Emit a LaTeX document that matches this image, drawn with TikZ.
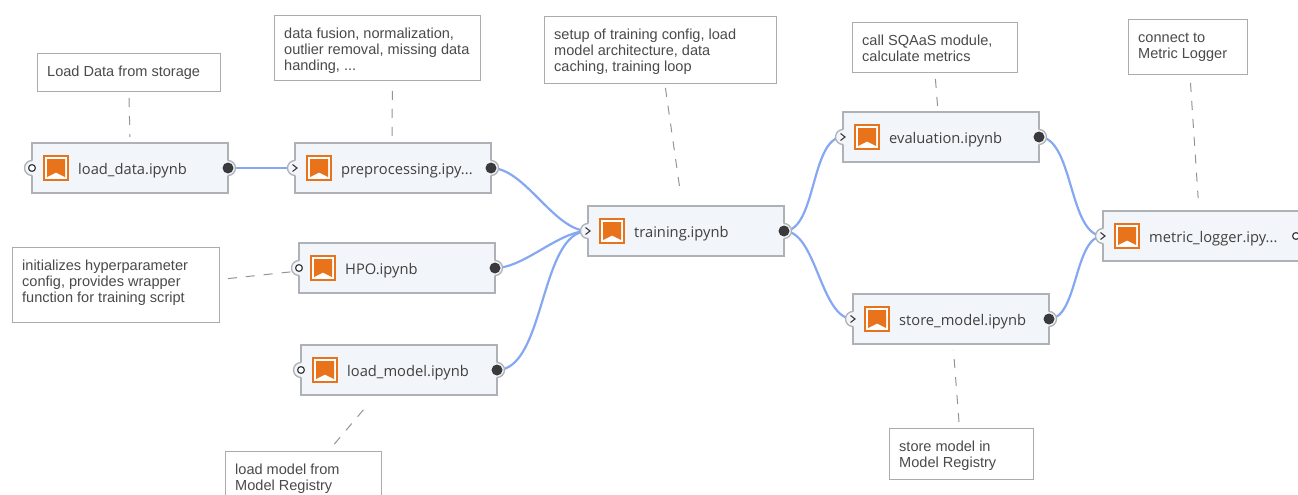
\documentclass[tikz,border=0pt]{standalone}
\usepackage{xcolor}
\usepackage{fontspec}
\setmainfont{Liberation Sans}
\newfontfamily\boxfont{Open Sans}
\definecolor{boxfill}{HTML}{F2F5F9}
\definecolor{boxline}{HTML}{AEB2B7}
\definecolor{noteline}{HTML}{ABABAB}
\definecolor{notetext}{HTML}{4A4A4A}
\definecolor{linkblue}{HTML}{86A8F2}
\definecolor{iconorange}{HTML}{E8731A}
\definecolor{portdark}{HTML}{3A3A3C}
\newcommand{\cutdots}{...}
\tikzset{
    nbbox/.style={draw=boxline, fill=boxfill, line width=1.2pt, minimum width=196pt, minimum height=50pt, inner sep=0pt, outer sep=0pt, anchor=north west},
    nblabel/.style={anchor=west, inner sep=0pt, text=black!75, font=\boxfont\fontsize{14.7}{16}\selectfont},
    noteframe/.style={draw=noteline, line width=0.9pt, fill=white, anchor=north west, inner sep=0pt},
    notelabel/.style={anchor=north west, inner sep=0pt, align=left, text=notetext, font=\fontsize{14.55}{16}\selectfont},
    notelink/.style={draw=black!42, line width=1pt, dash pattern=on 9pt off 9pt, shorten <=6pt, shorten >=6pt},
    datalink/.style={draw=linkblue, line width=2.2pt, out=0, in=180, looseness=0.75},
    portlip/.style={fill=boxfill, draw=none},
    nbicon/.pic={
        \draw [iconorange, fill=white, line width=2pt] (-12,-12) rectangle (12,12);
        \fill [iconorange] (-9,-9) -- (9,-9) -- (9,9) -- (0,4.5) -- (-9,9) -- cycle;
    }
}
\begin{document}
\begin{tikzpicture}[x=1pt, y=-1pt]
    \clip (0,0) rectangle (1298,495);

    % Notebook boxes
    \foreach \nbname/\x/\y/\nbtext in {
        loaddata/32/143/load\_data.ipynb,
        preproc/295/143/preprocessing.ipy\cutdots,
        hpo/299/243/HPO.ipynb,
        loadmodel/301/345/load\_model.ipynb,
        training/588/206/training.ipynb,
        evaluation/843/112/evaluation.ipynb,
        storemodel/853/294/store\_model.ipynb,
        metriclogger/1103/211/metric\_logger.ipy\cutdots} {
        \node [nbbox] (\nbname) at (\x,\y) {};
        \pic at ([xshift=24pt]\nbname.west) {nbicon};
        \node [nblabel] (\nbname label) at ([shift={(46pt,-2.5pt)}]\nbname.west) {\nbtext};
    }

    % Notes
    \foreach \notename/\x/\y/\w/\h/\notetext in {
        noteload/37/53/183/38/{Load Data from storage},
        notepreproc/274/15/206/65/{data fusion, normalization,\\outlier removal, missing data\\handing, \cutdots},
        notetrain/544/16/232/67/{setup of training config, load\\model architecture, data\\caching, training loop},
        noteeval/852/22/165/50/{call SQAaS module,\\calculate metrics},
        notemetric/1128/19/119/55/{connect to\\Metric Logger},
        notehpo/12/247/207/75/{initializes hyperparameter\\config, provides wrapper\\function for training script},
        notemodel/225/451/156/50/{load model from\\Model Registry},
        notestore/889/428/144/51/{store model in\\Model Registry}} {
        \node [noteframe, minimum width=\w pt, minimum height=\h pt] (\notename) at (\x,\y) {};
        \node [notelabel] (\notename label) at ([shift={(10pt,-12pt)}]\notename.north west) {\strut\notetext};
    }

    % Note links
    \draw [notelink] (noteload.south) -- (loaddata.north);
    \draw [notelink, shorten <=10pt, shorten >=7pt] ([xshift=15pt]notepreproc.south) -- ([xshift=-1pt]preproc.north);
    \draw [notelink, shorten <=4pt, shorten >=16pt] ([xshift=4.4pt]notetrain.south) -- ([xshift=-3.7pt]training.north);
    \draw [notelink] (noteeval.south) -- ([xshift=-3pt]evaluation.north);
    \draw [notelink, shorten <=8pt, shorten >=13pt] ([xshift=2pt]notemetric.south) -- ([xshift=-2pt]metriclogger.north);
    \draw [notelink, shorten <=8pt] ([yshift=5.5pt]notehpo.east) -- ([yshift=-3pt]hpo.west);
    \draw [notelink, shorten <=9pt, shorten >=18pt] ([xshift=25pt]notemodel.north) -- ([xshift=-23pt]loadmodel.south);
    \draw [notelink] ([xshift=-2pt]notestore.north) -- ([xshift=2pt]storemodel.south);

    % Links between notebooks
    \draw [datalink] (loaddata.east) to (preproc.west);
    \foreach \fromnb in {preproc,hpo,loadmodel} {
        \draw [datalink] (\fromnb.east) to (training.west);
    }
    \draw [datalink] (training.east) to (evaluation.west);
    \draw [datalink] (training.east) to (storemodel.west);
    \draw [datalink] (evaluation.east) to (metriclogger.west);
    \draw [datalink] (storemodel.east) to (metriclogger.west);

    % Ports
    \foreach \nbname in {loaddata,preproc,hpo,loadmodel,training,evaluation,storemodel} {
        \fill [portlip] (\nbname.east) circle (7.5pt);
        \draw [boxline, line width=1.3pt] ([yshift=7.5pt]\nbname.east) arc[start angle=90, end angle=-90, radius=7.5pt];
        \fill [portdark] (\nbname.east) circle (5.5pt);
    }
    \foreach \nbname in {loaddata,hpo,loadmodel} {
        \fill [portlip] (\nbname.west) circle (7.5pt);
        \draw [boxline, line width=1.3pt] ([yshift=7.5pt]\nbname.west) arc[start angle=90, end angle=270, radius=7.5pt];
        \draw [portdark, fill=white, line width=1.2pt] (\nbname.west) circle (3.4pt);
    }
    \foreach \nbname in {preproc,training,evaluation,storemodel,metriclogger} {
        \fill [portlip] (\nbname.west) circle (7.5pt);
        \draw [boxline, line width=1.3pt] ([yshift=7.5pt]\nbname.west) arc[start angle=90, end angle=270, radius=7.5pt];
        \draw [portdark, line width=1.1pt] ([shift={(-2.5pt,3.5pt)}]\nbname.west) -- ([xshift=2pt]\nbname.west) -- ([shift={(-2.5pt,-3.5pt)}]\nbname.west);
    }
    \draw [portdark, fill=white, line width=1.2pt] ([xshift=-3pt]metriclogger.east) circle (3.4pt);
\end{tikzpicture}
\end{document}
